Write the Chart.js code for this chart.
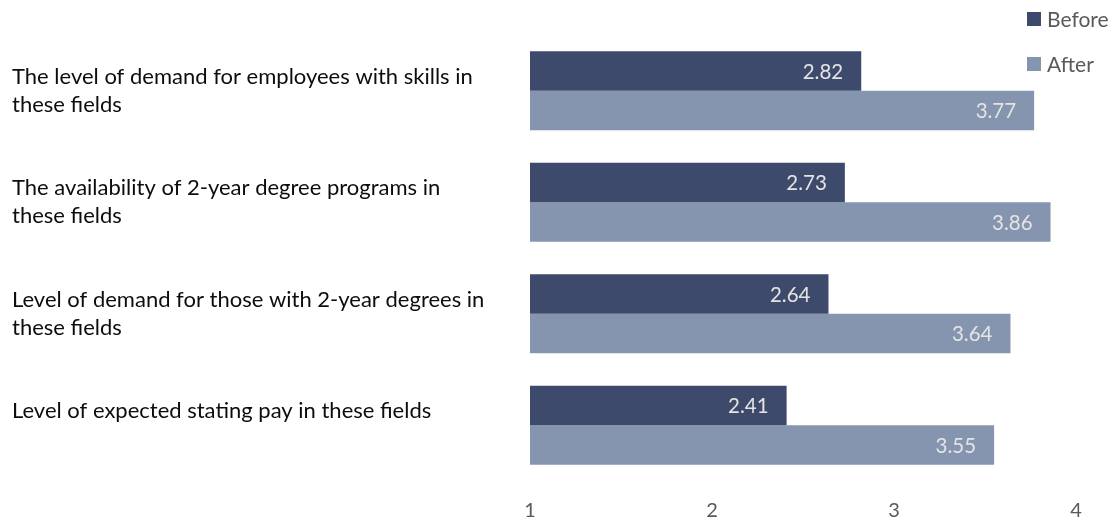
<!DOCTYPE html>
<html>
<head>
<meta charset="utf-8">
<script src="https://cdn.jsdelivr.net/npm/chart.js@4/dist/chart.umd.min.js"></script>
<style>
  html, body { margin: 0; padding: 0; background: #fff; }
  #wrap { width: 1115px; height: 523px; position: relative; }
</style>
</head>
<body>
<div id="wrap"><canvas id="chart"></canvas></div>
<script>
const categories = [
    ['The level of demand for employees with skills in', 'these fields'],
    ['The availability of 2-year degree programs in', 'these fields'],
    ['Level of demand for those with 2-year degrees in', 'these fields'],
    ['Level of expected stating pay in these fields', '']
]
const seriesNames = ['Before', 'After']
const before = [2.82, 2.73, 2.64, 2.41]
const after = [3.77, 3.86, 3.64, 3.55]
const xTicks = [1, 2, 3, 4]

const colors = ['#3e4a6c', '#8595b0']
const fontFamily = 'Lato, "Open Sans", sans-serif'

// white-ish numbers near the end of every bar
const valueLabels = {
    id: 'valueLabels',
    afterDatasetsDraw(chart) {
        const ctx = chart.ctx
        ctx.save()
        ctx.font = '20.5px ' + fontFamily
        ctx.fillStyle = '#e4e4e4'
        ctx.textAlign = 'right'
        ctx.textBaseline = 'middle'
        chart.data.datasets.forEach((ds, i) => {
            chart.getDatasetMeta(i).data.forEach((bar, j) => {
                ctx.fillText(ds.data[j].toFixed(2), bar.x - 18, bar.y + 1)
            })
        })
        ctx.restore()
    }
}

// legend stacked in the top right corner
const cornerLegend = {
    id: 'cornerLegend',
    afterDraw(chart) {
        const ctx = chart.ctx
        ctx.save()
        ctx.font = '21px ' + fontFamily
        ctx.textBaseline = 'middle'
        ctx.textAlign = 'left'
        chart.data.datasets.forEach((ds, i) => {
            const y = 19 + i * 45
            ctx.fillStyle = ds.backgroundColor
            ctx.fillRect(1027, y - 7, 14, 14)
            ctx.fillStyle = '#595959'
            ctx.fillText(ds.label, 1047, y + 1)
        })
        ctx.restore()
    }
}

new Chart(document.getElementById('chart'), {
    type: 'bar',
    data: {
        labels: categories,
        datasets: [
            { label: seriesNames[0], data: before, backgroundColor: colors[0] },
            { label: seriesNames[1], data: after, backgroundColor: colors[1] }
        ]
    },
    options: {
        indexAxis: 'y',
        responsive: true,
        maintainAspectRatio: false,
        animation: false,
        datasets: {
            bar: { categoryPercentage: 0.71, barPercentage: 1.0, base: 1 }
        },
        layout: { padding: { left: 12, right: 39, top: 35, bottom: 0 } },
        plugins: {
            legend: { display: false },
            tooltip: { enabled: false }
        },
        scales: {
            x: {
                min: 1,
                max: 4,
                afterBuildTicks: scale => { scale.ticks = xTicks.map(v => ({ value: v })) },
                afterFit: scale => { scale.height = 42 },
                grid: { display: false, drawTicks: false },
                border: { display: false },
                ticks: {
                    color: '#595959',
                    padding: 18,
                    font: { family: fontFamily, size: 20 }
                }
            },
            y: {
                grid: { display: false, drawTicks: false },
                border: { display: false },
                afterFit: scale => {
                    scale.width = 518
                    scale.paddingTop = 0
                    scale.paddingBottom = 0
                },
                ticks: {
                    crossAlign: 'far',
                    color: '#0d0d0d',
                    font: { family: fontFamily, size: 22, lineHeight: 1.27 }
                }
            }
        }
    },
    plugins: [valueLabels, cornerLegend]
})
</script>
</body>
</html>
